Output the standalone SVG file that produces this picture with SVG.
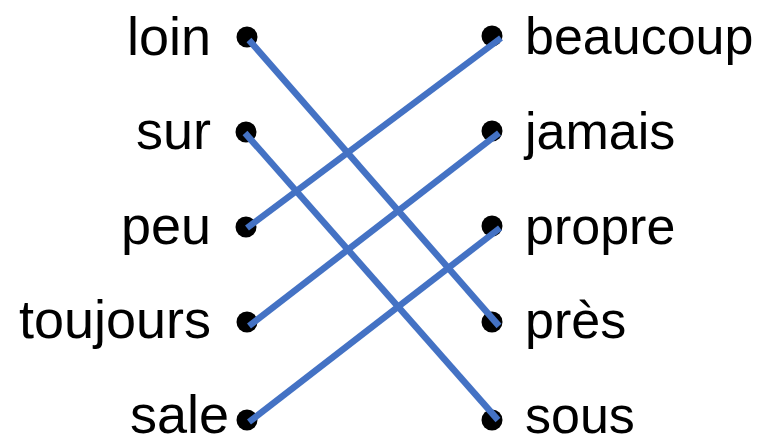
<svg xmlns="http://www.w3.org/2000/svg" width="769" height="439" viewBox="0 0 769 439">
<style>
text{font-family:"Liberation Sans",Arial,sans-serif;font-size:54px;fill:#000}
.l{text-anchor:end}
.r{font-size:52px}
.dot{fill:#000}
.c{stroke:#4472C4;stroke-width:6.5;fill:none}
</style>
<rect width="769" height="439" fill="#fff"/>
<g id="left-loin"><text class="l" x="211" y="55">loin</text><circle class="dot" cx="247" cy="37" r="10.5"/></g>
<g id="left-sur"><text class="l" x="211" y="149">sur</text><circle class="dot" cx="246" cy="132" r="10.5"/></g>
<g id="left-peu"><text class="l" x="211" y="244">peu</text><circle class="dot" cx="246" cy="227" r="10.5"/></g>
<g id="left-toujours"><text class="l" x="211" y="338">toujours</text><circle class="dot" cx="247" cy="322" r="10.5"/></g>
<g id="left-sale"><text class="l" x="229" y="433">sale</text><circle class="dot" cx="247" cy="420" r="10.5"/></g>
<g id="right-beaucoup"><circle class="dot" cx="492" cy="36" r="10.5"/><text class="r" x="525" y="54">beaucoup</text></g>
<g id="right-jamais"><circle class="dot" cx="492" cy="131" r="10.5"/><text class="r" x="525" y="149">jamais</text></g>
<g id="right-propre"><circle class="dot" cx="492" cy="226" r="10.5"/><text class="r" x="525" y="244">propre</text></g>
<g id="right-pres"><circle class="dot" cx="492" cy="322" r="10.5"/><text class="r" x="525" y="338">près</text></g>
<g id="right-sous"><circle class="dot" cx="492" cy="420" r="10.5"/><text class="r" x="525" y="433">sous</text></g>
<g id="connectors">
<line class="c" x1="249" y1="40" x2="499" y2="326"/>
<line class="c" x1="245" y1="133" x2="498" y2="420"/>
<line class="c" x1="247" y1="228" x2="501" y2="38"/>
<line class="c" x1="249" y1="326" x2="499" y2="133"/>
<line class="c" x1="249" y1="422" x2="500" y2="228"/>
</g>
</svg>
